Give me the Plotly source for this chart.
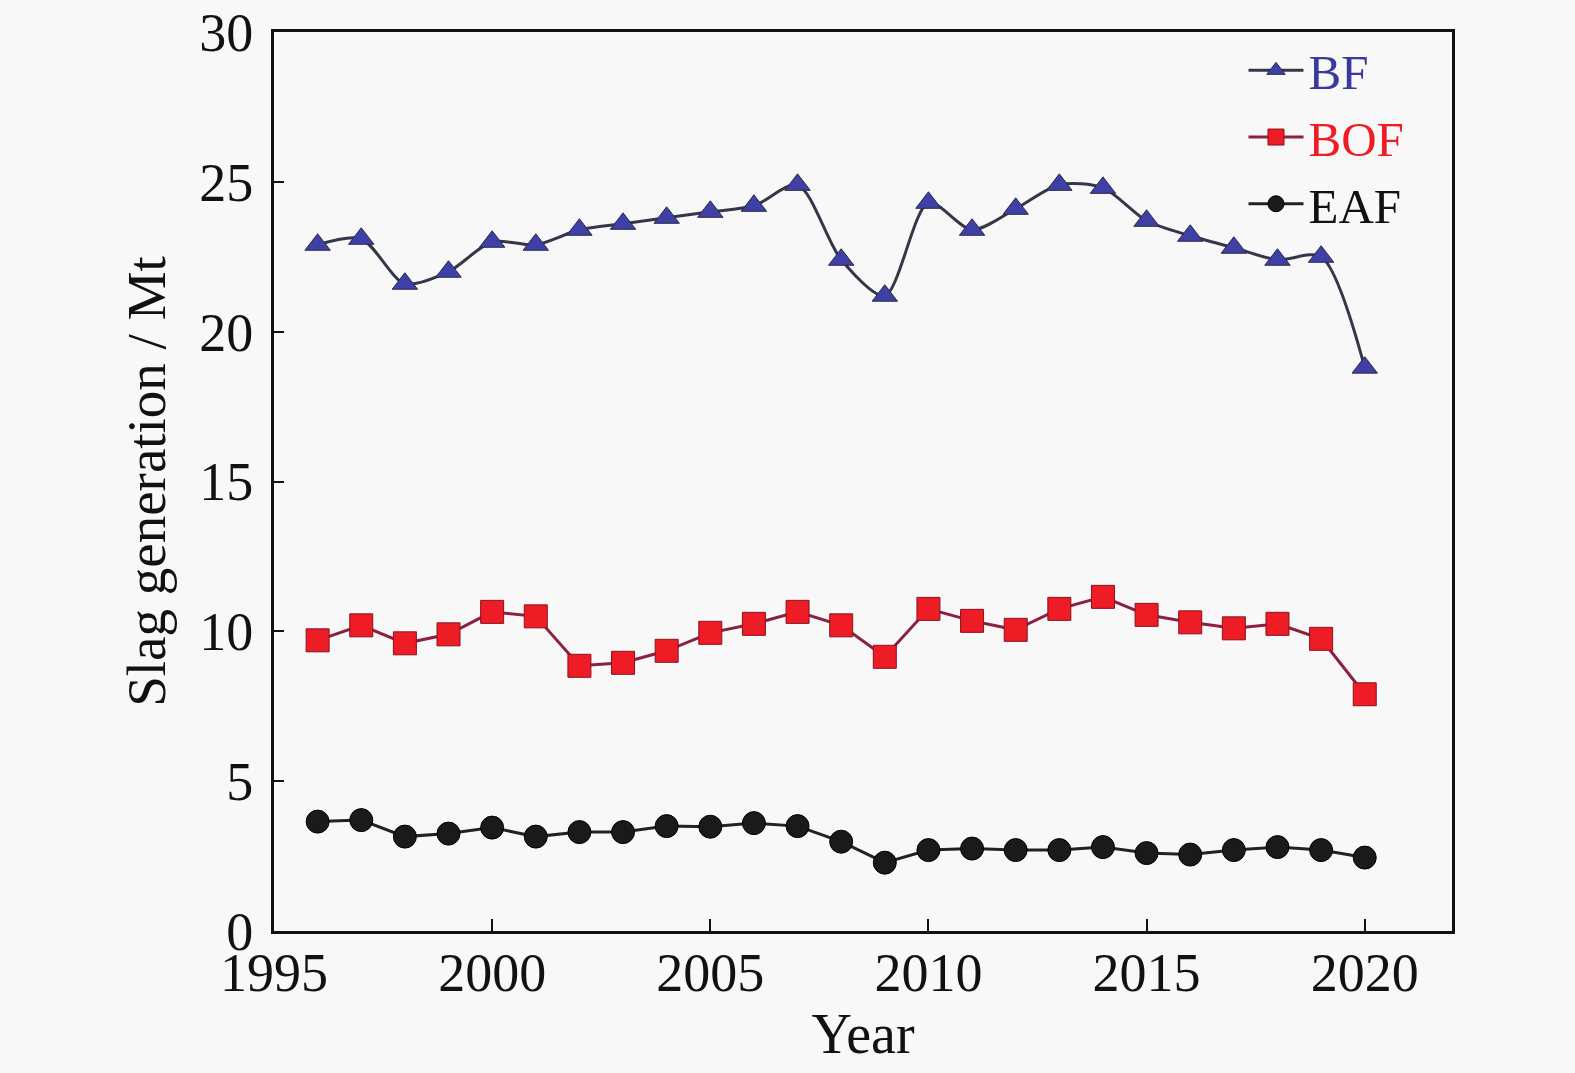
import plotly.graph_objects as go

years = list(range(1996, 2021))

bf = [22.9, 23.1, 21.6, 22.0, 23.0, 22.9, 23.4, 23.6, 23.8, 24.0, 24.2, 24.9, 22.4,
      21.2, 24.3, 23.4, 24.1, 24.9, 24.8, 23.7, 23.2, 22.8, 22.4, 22.5, 18.8]
bof = [9.7, 10.2, 9.6, 9.9, 10.65, 10.5, 8.85, 8.95, 9.35, 9.95, 10.25, 10.65, 10.2,
       9.15, 10.75, 10.35, 10.05, 10.75, 11.15, 10.55, 10.3, 10.1, 10.25, 9.75, 7.9]
eaf = [3.65, 3.7, 3.15, 3.25, 3.45, 3.15, 3.3, 3.3, 3.5, 3.48, 3.6, 3.5, 2.98,
       2.28, 2.7, 2.75, 2.7, 2.7, 2.8, 2.6, 2.55, 2.7, 2.8, 2.7, 2.45]

x_ticks = [1995, 2000, 2005, 2010, 2015, 2020]
y_ticks = [0, 5, 10, 15, 20, 25, 30]

FONT = "Liberation Serif, Times New Roman, serif"
BG = "#f8f8f8"

fig = go.Figure()

fig.add_trace(go.Scatter(
    x=years, y=bf, mode="lines+markers",
    name="<span style='color:#3a3a9c'>BF</span>",
    line=dict(color="#36364a", width=3, shape="spline", smoothing=0.8),
    marker=dict(symbol="triangle-up", size=22, color="#3f3fa8",
                line=dict(color="#2a2a40", width=1)),
))
fig.add_trace(go.Scatter(
    x=years, y=bof, mode="lines+markers",
    name="<span style='color:#ee1c25'>BOF</span>",
    line=dict(color="#8c2040", width=3),
    marker=dict(symbol="square", size=23, color="#ee1c25",
                line=dict(color="#8b1020", width=1)),
))
fig.add_trace(go.Scatter(
    x=years, y=eaf, mode="lines+markers",
    name="<span style='color:#111111'>EAF</span>",
    line=dict(color="#222222", width=3),
    marker=dict(symbol="circle", size=23, color="#1a1a1a",
                line=dict(color="#000000", width=1)),
))

axis_common = dict(
    showline=True, linecolor="#111111", linewidth=3, mirror=True,
    showgrid=False, zeroline=False, automargin=False,
    ticks="inside", tickcolor="#111111", tickwidth=2,
    tickfont=dict(family=FONT, size=54, color="#111111"),
)

fig.update_layout(
    width=1575, height=1073,
    paper_bgcolor=BG, plot_bgcolor=BG,
    margin=dict(l=274, r=123, t=32, b=142),
    font=dict(family=FONT, color="#111111"),
    xaxis=dict(
        range=[1995, 2022], tickvals=x_ticks, ticklen=12, ticklabelstandoff=-8,
        title=dict(text="Year", font=dict(family=FONT, size=56), standoff=13),
        **axis_common,
    ),
    yaxis=dict(
        range=[0, 30], tickvals=y_ticks, ticklen=10, ticklabelstandoff=7,
        title=dict(text="Slag generation / Mt", font=dict(family=FONT, size=55), standoff=16),
        **axis_common,
    ),
    legend=dict(
        x=0.823, y=1.0, xanchor="left", yanchor="top",
        bgcolor="rgba(0,0,0,0)", borderwidth=0,
        font=dict(family=FONT, size=49, color="#111111"),
        itemwidth=55, tracegroupgap=0,
    ),
    showlegend=True,
)

fig.write_html(
    "out.html",
    config={"displayModeBar": False},
    post_script="document.body.style.margin='0';document.body.style.background='#f8f8f8';",
)
